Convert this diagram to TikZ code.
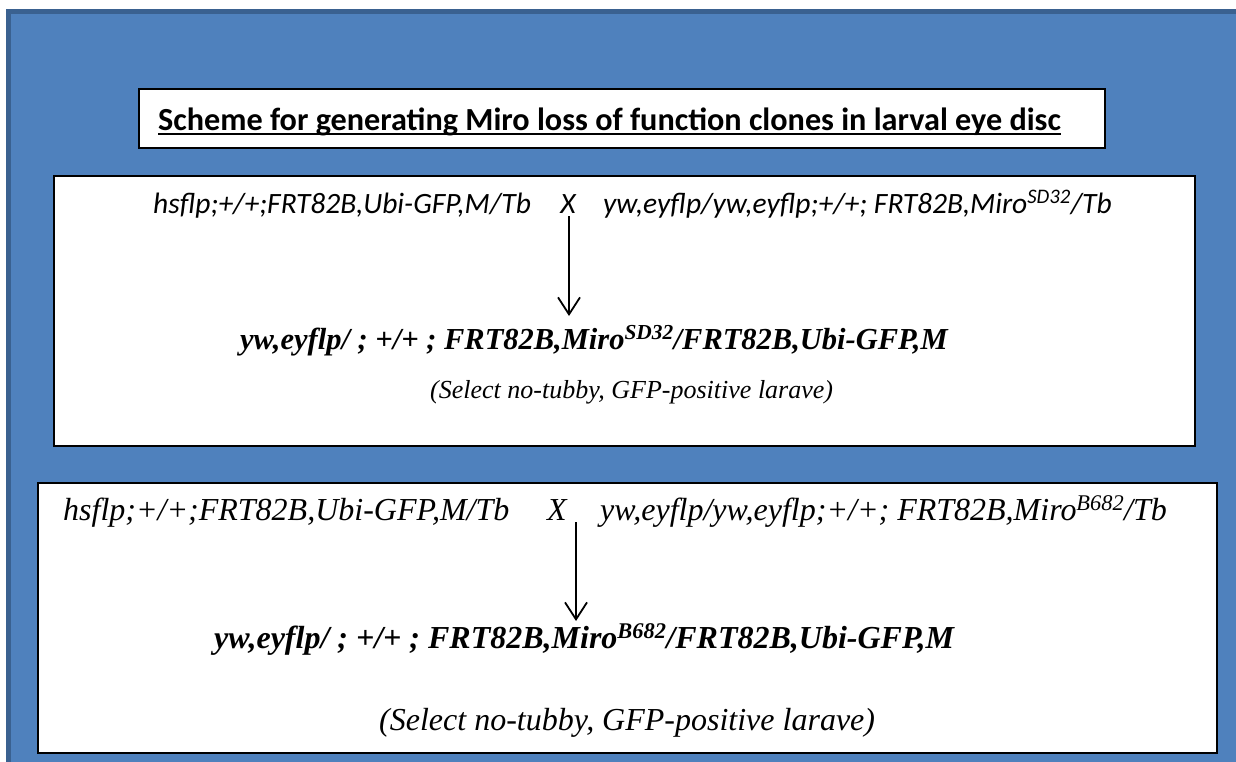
\documentclass[tikz,border=0pt]{standalone}
\usepackage{fontspec}
\setmainfont{Liberation Serif}
\newfontfamily\calfont{Carlito}
\usetikzlibrary{arrows.meta}
\definecolor{bgblue}{HTML}{4F81BD}
\definecolor{bgedge}{HTML}{3A6190}
\tikzset{
  panel/.style={draw=black, line width=2pt, fill=white, anchor=north west, inner sep=0pt},
  txt/.style={anchor=base west, inner sep=0pt},
  flow/.style={line width=1.8pt, -{Straight Barb[length=17pt,width=22pt,line width=1.8pt]}},
}
\begin{document}
\begin{tikzpicture}[x=1pt,y=-1pt]
\useasboundingbox (0,0) rectangle (1236,761);
\fill[white] (0,0) rectangle (1236,761);
\draw[bgedge, line width=5pt, fill=bgblue] (8.5,11.5) rectangle (1238,780);

% title
\node[panel, minimum width=966pt, minimum height=59pt] (titlebox) at (138,88) {};
\node[txt] (title) at (158,130) {\calfont\bfseries\fontsize{32.2}{36}\selectfont Scheme for generating Miro loss of function clones in larval eye disc};
\draw[line width=2.4pt] ([yshift=-4pt]title.base west) -- ([yshift=-4pt]title.base east);

% box 1
\node[panel, minimum width=1141pt, minimum height=270pt] (box1) at (53,175) {};
\node[txt] (p1a) at (153,213) {\calfont\itshape\fontsize{29.5}{34}\selectfont hsflp;+/+;FRT82B,Ubi-GFP,M/Tb};
\node[anchor=base, inner sep=0pt] (x1) at (568,213) {\calfont\itshape\fontsize{29.5}{34}\selectfont X};
\node[txt] (p1b) at (603,213) {\calfont\itshape\fontsize{29.5}{34}\selectfont yw,eyflp/yw,eyflp;+/+; FRT82B,Miro\textsuperscript{SD32}/Tb};
\node[txt] (r1) at (240,349) {\bfseries\itshape\fontsize{30.5}{34}\selectfont yw,eyflp/ ; +/+ ; FRT82B,Miro\textsuperscript{SD32}/FRT82B,Ubi-GFP,M};
\node[txt] (s1) at (430,398) {\itshape\fontsize{26}{30}\selectfont (Select no-tubby, GFP-positive larave)};
\coordinate (e1) at (569,316);
\draw[flow] (x1.south -| e1) ++(0,3) -- (e1);

% box 2
\node[panel, minimum width=1179pt, minimum height=270pt] (box2) at (37,482) {};
\node[txt] (p2a) at (63,520) {\itshape\fontsize{32}{36}\selectfont hsflp;+/+;FRT82B,Ubi-GFP,M/Tb};
\node[anchor=base, inner sep=0pt] (x2) at (557,520) {\itshape\fontsize{32}{36}\selectfont X};
\node[txt] (p2b) at (600,520) {\itshape\fontsize{32}{36}\selectfont yw,eyflp/yw,eyflp;+/+; FRT82B,Miro\textsuperscript{B682}/Tb};
\node[txt] (r2) at (214,648) {\bfseries\itshape\fontsize{32}{36}\selectfont yw,eyflp/ ; +/+ ; FRT82B,Miro\textsuperscript{B682}/FRT82B,Ubi-GFP,M};
\node[txt] (s2) at (379,730) {\itshape\fontsize{32}{36}\selectfont (Select no-tubby, GFP-positive larave)};
\coordinate (e2) at (576,621);
\draw[flow] (x2.south -| e2) ++(0,2) -- (e2);
\end{tikzpicture}
\end{document}
